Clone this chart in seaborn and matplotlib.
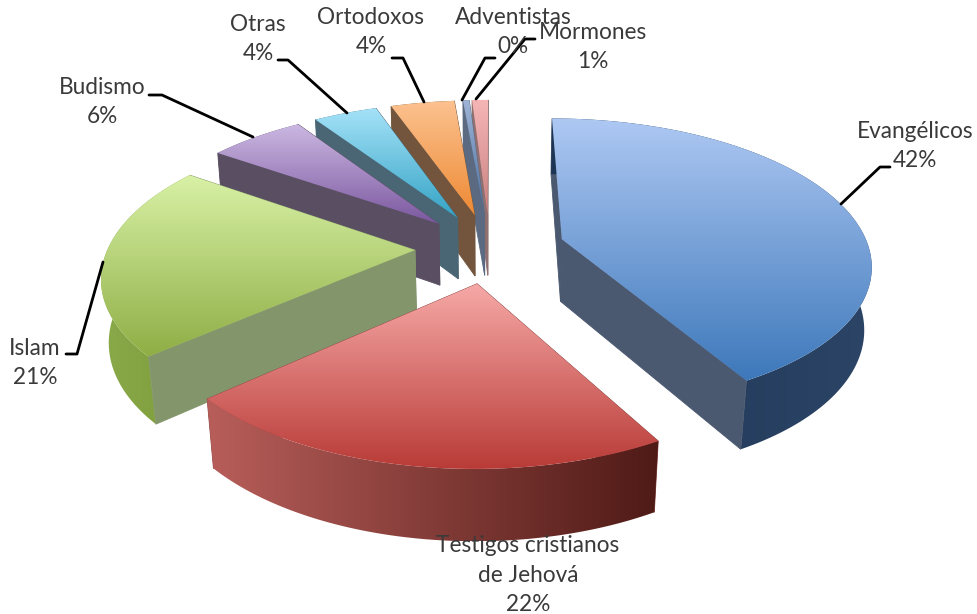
import numpy as np
import matplotlib
matplotlib.use("Agg")
import matplotlib.pyplot as plt
from matplotlib.patches import Polygon
import seaborn as sns

# ---- data ----
names = ["Evangélicos", "Testigos cristianos\nde Jehová", "Islam", "Budismo",
         "Otras", "Ortodoxos", "Adventistas", "Mormones"]
values = [42, 21.7, 21.3, 6, 4, 4, 0.4, 1]
shown = [42, 22, 21, 6, 4, 4, 0, 1]

# ---- style ----
top_light = ["#aec8f3", "#f6a9a7", "#d8f1a6", "#cbb8e2", "#a4e2f8", "#fcc290", "#9fb4d6", "#f6b6b6"]
top_dark = ["#3d78ba", "#b93b37", "#8fae45", "#7b579f", "#35a3c5", "#ee8a35", "#4a6fa0", "#c98080"]
wall = ["#4a5870", "#8e4a48", "#83966b", "#5a4f62", "#4a6675", "#72553c", "#5b6a80", "#8f6f6f"]
outer_a = ["#1d3656", "#b85e5a", "#8aaa4b", "#5a4f62", "#4a6675", "#72553c", "#5b6a80", "#b08080"]
outer_b = ["#2c4465", "#4f1a16", "#7c9c38", "#5a4f62", "#4a6675", "#72553c", "#5b6a80", "#b08080"]
label_xy = [(915, 145), (528, 574), (35, 362), (102, 101), (258, 38), (371, 31), (513, 31), (593, 46)]
leaders = [[(841, 204), (880, 167), (890, 167)],
           [],
           [(103, 262), (77, 354), (66, 354)],
           [(253, 137), (162, 95), (149, 95)],
           [(347, 113), (288, 60), (278, 60)],
           [(424, 102), (403, 58), (392, 58)],
           [(462, 100), (485, 58), (495, 58)],
           [(476, 99), (525, 39), (535, 39)]]
R, EXPLODE, H = 307.0, 75.0, 72.0
CX, CY, F = 490.0, 248.0, 1700.0
ELEV = np.radians(27.7)

sns.set_theme(style="white")
plt.rcParams["font.family"] = ["Lato", "DejaVu Sans"]


def project(X, Y, Z):
    X, Y, Z = map(np.asarray, (X, Y, Z))
    v = Y * np.sin(ELEV) + Z * np.cos(ELEV)
    w = Y * np.cos(ELEV) - Z * np.sin(ELEV)
    s = F / (F + w)
    return CX + X * s, CY - v * s


def patch(ax, pts, zorder, color=None, cmap=None, horizontal=False):
    pts = np.column_stack(pts)
    if cmap is None:
        ax.add_patch(Polygon(pts, closed=True, fc=color, ec=color, lw=0.6, zorder=zorder))
        return
    x0, y0 = pts.min(axis=0)
    x1, y1 = pts.max(axis=0)
    grad = np.linspace(0, 1, 256)
    grad = grad[None, :] if horizontal else grad[:, None]
    im = ax.imshow(grad, cmap=cmap, extent=(x0, x1, y1, y0), aspect="auto",
                   origin="upper", zorder=zorder, interpolation="bilinear")
    clip = Polygon(pts, closed=True, transform=ax.transData, fc="none", ec="none")
    ax.add_patch(clip)
    im.set_clip_path(clip)


fig = plt.figure(figsize=(9.77, 6.14), dpi=100, facecolor="white")
ax = fig.add_axes([0, 0, 1, 1])

vals = np.array(values, dtype=float)
edges = np.concatenate([[0], np.cumsum(vals) / vals.sum() * 2 * np.pi])
z = 1.0
for i in [7, 6, 5, 4, 3, 2, 0, 1]:
    a0, a1 = edges[i], edges[i + 1]
    mid = (a0 + a1) / 2
    ox, oy = EXPLODE * np.sin(mid), EXPLODE * np.cos(mid)
    t = np.linspace(a0, a1, 120)
    ax_x = ox + R * np.sin(t)
    ax_y = oy + R * np.cos(t)
    # walls, back to front
    faces = []
    for a in (a0, a1):
        xs = [ox, ox + R * np.sin(a)]
        ys = [oy, oy + R * np.cos(a)]
        top = project(xs, ys, [0, 0])
        bot = project(xs, ys, [-H, -H])
        poly = (np.r_[top[0], bot[0][::-1]], np.r_[top[1], bot[1][::-1]])
        faces.append((np.mean(ys), poly, False))
    top = project(ax_x, ax_y, 0 * ax_x)
    bot = project(ax_x, ax_y, 0 * ax_x - H)
    poly = (np.r_[top[0], bot[0][::-1]], np.r_[top[1], bot[1][::-1]])
    faces.append((np.mean(ax_y), poly, True))
    cmap_outer = sns.blend_palette([outer_a[i], outer_b[i]], as_cmap=True)
    for _, poly, is_outer in sorted(faces, key=lambda f: -f[0]):
        z += 0.1
        if is_outer:
            patch(ax, poly, z, cmap=cmap_outer, horizontal=True)
        else:
            patch(ax, poly, z, color=wall[i])
    # top surface
    tx, ty = project(np.r_[ox, ax_x], np.r_[oy, ax_y], np.zeros(len(t) + 1))
    z += 0.1
    patch(ax, (tx, ty), z, cmap=sns.blend_palette([top_light[i], top_dark[i]], as_cmap=True))

for name, pct, (lx, ly), path in zip(names, shown, label_xy, leaders):
    if path:
        px, py = zip(*path)
        sns.lineplot(x=list(px), y=list(py), ax=ax, color="black", lw=2, sort=False,
                     estimator=None, zorder=90, legend=False)
    ax.text(lx, ly + 1, f"{name}\n{pct}%", ha="center", va="center", ma="center",
            fontsize=16.3, color="#3a3a3a", linespacing=1.5, zorder=100)

ax.set_xlim(0, 977)
ax.set_ylim(614, 0)
ax.axis("off")
fig.savefig("out.png", dpi=100, facecolor="white")
